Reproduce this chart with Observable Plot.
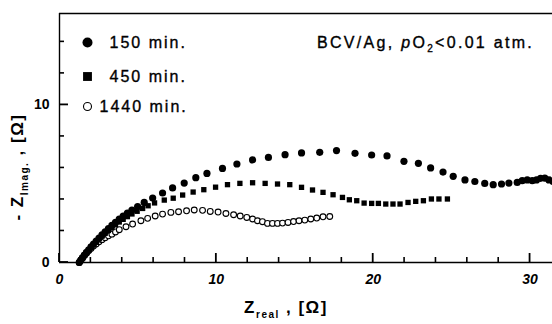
<!DOCTYPE html>
<html><head><meta charset="utf-8">
<script src="https://cdn.jsdelivr.net/npm/d3@7"></script>
<script src="https://cdn.jsdelivr.net/npm/@observablehq/plot@0.6"></script>
<style>body{margin:0;background:#fff}</style>
</head><body><div id="chart"></div>
<script>
// ---- data ----
const seriesNames = ["150 min.", "450 min.", "1440 min."];

const zreal150 = [1.26,1.36,1.47,1.59,1.72,1.86,2.01,2.17,2.34,2.52,2.71,2.91,3.12,3.34,3.57,3.81,4.06,4.33,4.62,4.98,5.40,5.94,
  6.57,7.21,7.95,8.69,9.40,10.39,11.31,12.31,13.32,14.38,15.43,16.59,17.66,18.84,19.90,20.88,21.96,22.88,23.66,24.45,25.10,25.85,26.48,27.11,27.65,28.18,28.65,29.18,29.50,29.82,30.14,30.41,30.67,30.94,31.20,31.45];
const zimag150 = [0,0.15,0.31,0.47,0.64,0.81,0.99,1.17,1.36,1.55,1.75,1.95,2.15,2.35,2.55,2.75,2.95,3.14,3.33,3.55,3.81,4.09,
  4.41,4.73,5.04,5.38,5.65,5.97,6.25,6.51,6.67,6.84,6.95,6.99,7.10,6.93,6.82,6.76,6.42,6.29,6.00,5.74,5.47,5.24,5.14,5.02,4.94,4.98,5.04,5.08,5.19,5.24,5.19,5.24,5.34,5.36,5.24,5.15];

const zreal450 = [1.26,1.36,1.47,1.59,1.72,1.86,2.01,2.17,2.34,2.52,2.71,2.91,3.12,3.34,3.57,3.81,4.06,4.33,4.62,4.95,5.30,5.65,6.06,
  6.68,7.25,7.85,8.52,9.20,9.95,10.71,11.50,12.31,13.11,13.90,14.68,15.43,16.13,16.80,17.44,18.04,18.48,18.95,19.42,19.90,20.33,20.80,21.26,21.71,22.22,22.71,23.20,23.71,24.19,24.73];
const zimag450 = [0,0.15,0.30,0.46,0.62,0.79,0.96,1.13,1.31,1.49,1.67,1.85,2.03,2.21,2.39,2.57,2.74,2.91,3.08,3.25,3.43,3.60,3.78,
  3.96,4.08,4.28,4.47,4.62,4.78,4.94,5.02,5.06,5.02,4.98,4.94,4.77,4.60,4.45,4.30,4.13,3.98,3.92,3.77,3.75,3.75,3.71,3.71,3.71,3.81,3.88,3.92,4.03,4.03,4.03];

const zreal1440 = [1.26,1.36,1.47,1.59,1.72,1.86,2.01,2.17,2.34,2.52,2.71,2.91,3.12,3.34,3.57,3.81,4.24,4.66,5.19,5.62,6.10,6.57,7.10,7.59,8.10,8.59,
  9.12,9.61,10.11,10.61,11.10,11.52,11.94,12.31,12.62,12.94,13.26,13.58,13.90,14.22,14.57,14.92,15.27,15.64,16.02,16.40,16.80,17.23];
const zimag1440 = [0,0.14,0.29,0.44,0.59,0.74,0.89,1.04,1.18,1.32,1.45,1.57,1.69,1.80,1.94,2.08,2.27,2.44,2.65,2.80,2.95,3.07,3.18,3.22,3.28,3.33,
  3.31,3.24,3.20,3.11,3.03,2.95,2.86,2.76,2.65,2.59,2.48,2.48,2.48,2.50,2.54,2.60,2.65,2.69,2.76,2.82,2.90,2.92];

const xTicksMajor = [0, 10, 20, 30];
const xTicksMinor = [2,4,6,8,12,14,16,18,22,24,26,28];
const yTicksMajor = [0, 10];
const yTicksMinor = [2,4,6,8,12,14];
const xDomain = [0, 31.43];
const yDomain = [0, 15.8];
const annotation = ["BCV/Ag, ", "p", "O", "2", "<0.01 atm."];
const xTitle = ["Z", "real", " , [Ω]"];
const yTitle = ["- Z", "Imag.", " , [Ω]"];

const toRows = (xs, ys) => xs.map((x, i) => ({x, y: ys[i]}));
const d150 = toRows(zreal150, zimag150);
const d450 = toRows(zreal450, zimag450);
const d1440 = toRows(zreal1440, zimag1440);

const font = "'Liberation Sans', Arial, Helvetica, sans-serif";
const sw = 1.4;

const fig = Plot.plot({
  width: 552, height: 324,
  marginLeft: 59, marginRight: 0, marginTop: 13, marginBottom: 62,
  x: {domain: xDomain, label: null},
  y: {domain: yDomain, label: null},
  style: {fontFamily: font, color: "#000", background: "#fff"},
  marks: [
    // frame (left, bottom, top)
    Plot.ruleX([xDomain[0]], {stroke: "#000", strokeWidth: sw}),
    Plot.ruleY([yDomain[0]], {stroke: "#000", strokeWidth: sw}),
    Plot.ruleY([yDomain[1]], {stroke: "#000", strokeWidth: sw}),
    // tick labels
    Plot.axisX({ticks: xTicksMajor, tickSize: 0, tickPadding: 12, label: null, fontSize: 14, fontWeight: "bold", fontStyle: "italic", tickFormat: d => String(d)}),
    Plot.axisY({ticks: yTicksMajor, tickSize: 0, tickPadding: 10, label: null, fontSize: 14, fontWeight: "bold", tickFormat: d => String(d)}),
    // data
    Plot.dot(d1440, {x: "x", y: "y", r: 2.9, fill: "#fff", stroke: "#000", strokeWidth: 1.1}),
    Plot.dot(d450, {x: "x", y: "y", symbol: "square", r: 3.0, fill: "#000", stroke: "none"}),
    Plot.dot(d150, {x: "x", y: "y", r: 3.6, fill: "#000", stroke: "none"}),
    // legend
    Plot.dot([seriesNames[0]], {frameAnchor: "top-left", dx: 28, dy: 29, r: 5, fill: "#000", stroke: "none"}),
    Plot.dot([seriesNames[1]], {frameAnchor: "top-left", dx: 28, dy: 63, symbol: "square", r: 5, fill: "#000", stroke: "none"}),
    Plot.dot([seriesNames[2]], {frameAnchor: "top-left", dx: 28, dy: 93, r: 4, fill: "#fff", stroke: "#000", strokeWidth: 1.1}),
    Plot.text([seriesNames[0]], {frameAnchor: "top-left", dx: 50, dy: 29, text: d => d, textAnchor: "start", lineAnchor: "middle", fontSize: 16, className: "lgd"}),
    Plot.text([seriesNames[1]], {frameAnchor: "top-left", dx: 50, dy: 63, text: d => d, textAnchor: "start", lineAnchor: "middle", fontSize: 16, className: "lgd"}),
    Plot.text([seriesNames[2]], {frameAnchor: "top-left", dx: 40, dy: 93, text: d => d, textAnchor: "start", lineAnchor: "middle", fontSize: 16, className: "lgd"})
  ]
});

document.getElementById("chart").appendChild(fig);
const svg = d3.select(fig);
svg.selectAll(".lgd text").attr("letter-spacing", "2px").attr("stroke", "#000").attr("stroke-width", 0.35);

// inward ticks drawn with Plot's own scales
const sx = fig.scale("x"), sy = fig.scale("y");
const x0 = sx.apply(xDomain[0]), y0 = sy.apply(yDomain[0]);
const tg = svg.append("g").attr("stroke", "#000").attr("fill", "none");
const addX = (ticks, len, w) => ticks.forEach(t => {
  const px = sx.apply(t);
  tg.append("path").attr("d", `M${px},${y0}V${y0 - len}`).attr("stroke-width", w);
});
const addY = (ticks, len, w) => ticks.forEach(t => {
  const py = sy.apply(t);
  tg.append("path").attr("d", `M${x0},${py}H${x0 + len}`).attr("stroke-width", w);
});
addX(xTicksMajor, 9, 1.8); addX(xTicksMinor, 5, 1.6);
addY(yTicksMajor, 9, 1.8); addY(yTicksMinor, 5, 1.6);

// annotation
const ann = svg.append("text").attr("x", 317).attr("y", 47.5).attr("text-anchor", "start")
  .attr("font-family", font).attr("font-size", 16).attr("letter-spacing", "2.3px")
  .attr("fill", "#000").attr("stroke", "#000").attr("stroke-width", 0.35);
ann.append("tspan").text(annotation[0]);
ann.append("tspan").attr("font-style", "italic").text(annotation[1]);
ann.append("tspan").text(annotation[2]);
ann.append("tspan").attr("font-size", 10).attr("dy", 4).text(annotation[3]);
ann.append("tspan").attr("dy", -4).text(annotation[4]);

// x title
const xt = svg.append("text").attr("x", 286).attr("y", 313).attr("text-anchor", "middle")
  .attr("font-family", font).attr("font-size", 17).attr("font-weight", "bold").attr("letter-spacing", "1.5px").attr("fill", "#000");
xt.append("tspan").text(xTitle[0]);
xt.append("tspan").attr("font-size", 10).attr("dy", 5).text(xTitle[1]);
xt.append("tspan").attr("dy", -5).text(xTitle[2]);

// y title
const yt = svg.append("text").attr("transform", "translate(23,167) rotate(-90)").attr("text-anchor", "middle")
  .attr("font-family", font).attr("font-size", 17).attr("font-weight", "bold").attr("letter-spacing", "1.5px").attr("fill", "#000");
yt.append("tspan").text(yTitle[0]);
yt.append("tspan").attr("font-size", 10).attr("dy", 5).text(yTitle[1]);
yt.append("tspan").attr("dy", -5).text(yTitle[2]);
</script>
</body></html>
